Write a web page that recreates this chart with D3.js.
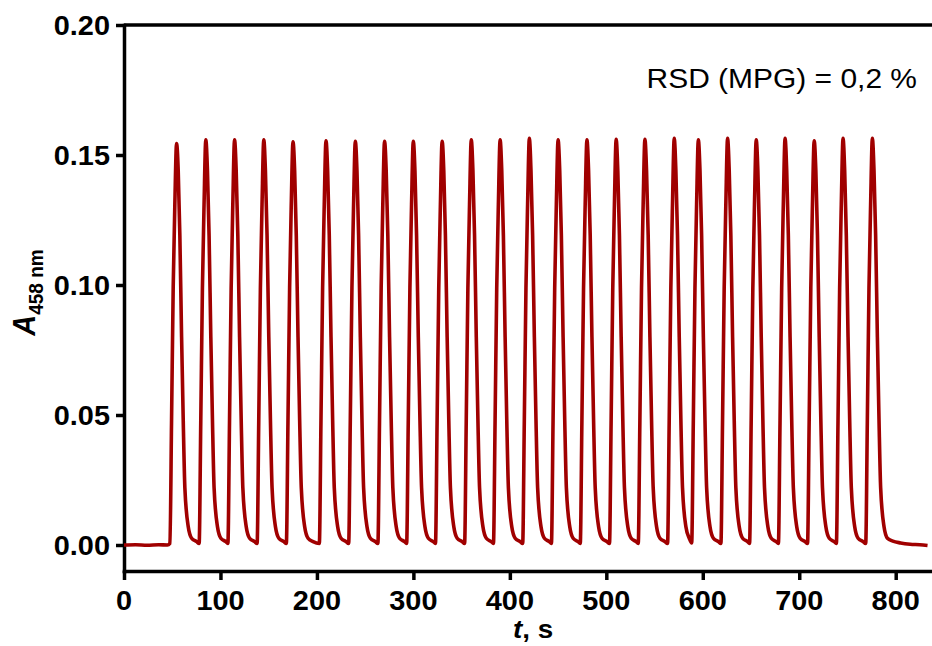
<!DOCTYPE html>
<html><head><meta charset="utf-8">
<script src="https://cdn.jsdelivr.net/npm/d3@7"></script>
<style>body{margin:0;background:#fff} svg{display:block}</style>
</head><body><svg id="chart" width="932" height="646"></svg>
<script>
// ---- data ----
const xTicks = [0,100,200,300,400,500,600,700,800];
const xTickLabels = ["0","100","200","300","400","500","600","700","800"];
const yTicks = [0,0.05,0.10,0.15,0.20];
const yTickLabels = ["0.00","0.05","0.10","0.15","0.20"];
const xTitle = ["t", ", s"];
const yTitle = ["A", "458 nm"];
const annotation = "RSD (MPG) = 0,2 %";

// time (s), absorbance
const baselineStart = [[0,0.0000],[12,0.0001],[24,-0.0001],[36,0.0001],[45,0.0000]];
const pulses = [
 [[47.6,0.0006],[49.3,0.048],[51.0,0.099],[52.7,0.131],[54.5,0.1544],[56.2,0.144],[57.9,0.119],[59.7,0.080],[61.4,0.048],[63.1,0.022],[66.6,0.007],[70.1,0.0026],[75.3,0.0013]],
 [[77.9,0.0006],[79.6,0.048],[81.3,0.099],[83.0,0.131],[84.8,0.1558],[86.5,0.144],[88.2,0.119],[90.0,0.080],[91.7,0.048],[93.4,0.022],[96.9,0.007],[100.4,0.0026],[105.6,0.0013]],
 [[107.7,0.0006],[109.4,0.048],[111.1,0.099],[112.8,0.131],[114.6,0.1558],[116.3,0.144],[118.0,0.119],[119.8,0.080],[121.5,0.048],[123.2,0.022],[126.7,0.007],[130.2,0.0026],[135.4,0.0013]],
 [[138.0,0.0006],[139.7,0.048],[141.4,0.099],[143.1,0.131],[144.9,0.1558],[146.6,0.144],[148.3,0.119],[150.1,0.080],[151.8,0.048],[153.5,0.022],[157.0,0.007],[160.5,0.0026],[165.7,0.0013]],
 [[168.3,0.0006],[170.0,0.048],[171.7,0.099],[173.4,0.131],[175.2,0.1551],[176.9,0.144],[178.6,0.119],[180.4,0.080],[182.1,0.048],[183.8,0.022],[187.3,0.007],[190.8,0.0026],[196.0,0.0013]],
 [[202.5,0.0006],[204.2,0.048],[205.9,0.099],[207.6,0.131],[209.4,0.1555],[211.1,0.144],[212.8,0.119],[214.6,0.080],[216.3,0.048],[218.0,0.022],[221.5,0.007],[225.0,0.0026],[230.2,0.0013]],
 [[232.9,0.0006],[234.6,0.048],[236.3,0.099],[238.0,0.131],[239.8,0.1553],[241.5,0.144],[243.2,0.119],[245.0,0.080],[246.7,0.048],[248.4,0.022],[251.9,0.007],[255.4,0.0026],[260.6,0.0013]],
 [[263.2,0.0006],[264.9,0.048],[266.6,0.099],[268.3,0.131],[270.1,0.1553],[271.8,0.144],[273.5,0.119],[275.3,0.080],[277.0,0.048],[278.7,0.022],[282.2,0.007],[285.7,0.0026],[290.9,0.0013]],
 [[293.0,0.0006],[294.7,0.048],[296.4,0.099],[298.1,0.131],[299.9,0.1553],[301.6,0.144],[303.3,0.119],[305.1,0.080],[306.8,0.048],[308.5,0.022],[312.0,0.007],[315.5,0.0026],[320.7,0.0013]],
 [[322.9,0.0006],[324.6,0.048],[326.3,0.099],[328.0,0.131],[329.8,0.1553],[331.5,0.144],[333.2,0.119],[335.0,0.080],[336.7,0.048],[338.4,0.022],[341.9,0.007],[345.4,0.0026],[350.6,0.0013]],
 [[353.1,0.0006],[354.8,0.048],[356.5,0.099],[358.2,0.131],[360.0,0.1558],[361.7,0.144],[363.4,0.119],[365.2,0.080],[366.9,0.048],[368.6,0.022],[372.1,0.007],[375.6,0.0026],[380.8,0.0013]],
 [[383.0,0.0006],[384.7,0.048],[386.4,0.099],[388.1,0.131],[389.9,0.1558],[391.6,0.144],[393.3,0.119],[395.1,0.080],[396.8,0.048],[398.5,0.022],[402.0,0.007],[405.5,0.0026],[410.7,0.0013]],
 [[413.3,0.0006],[415.0,0.048],[416.7,0.099],[418.4,0.131],[420.2,0.1564],[421.9,0.144],[423.6,0.119],[425.4,0.080],[427.1,0.048],[428.8,0.022],[432.3,0.007],[435.8,0.0026],[441.0,0.0013]],
 [[443.1,0.0006],[444.8,0.048],[446.5,0.099],[448.2,0.131],[450.0,0.1558],[451.7,0.144],[453.4,0.119],[455.2,0.080],[456.9,0.048],[458.6,0.022],[462.1,0.007],[465.6,0.0026],[470.8,0.0013]],
 [[473.0,0.0006],[474.7,0.048],[476.4,0.099],[478.1,0.131],[479.9,0.1558],[481.6,0.144],[483.3,0.119],[485.1,0.080],[486.8,0.048],[488.5,0.022],[492.0,0.007],[495.5,0.0026],[500.7,0.0013]],
 [[503.3,0.0006],[505.0,0.048],[506.7,0.099],[508.4,0.131],[510.2,0.1560],[511.9,0.144],[513.6,0.119],[515.4,0.080],[517.1,0.048],[518.8,0.022],[522.3,0.007],[525.8,0.0026],[531.0,0.0013]],
 [[533.1,0.0006],[534.8,0.048],[536.5,0.099],[538.2,0.131],[540.0,0.1560],[541.7,0.144],[543.4,0.119],[545.2,0.080],[546.9,0.048],[548.6,0.022],[552.1,0.007],[555.6,0.0026],[560.8,0.0013]],
 [[563.5,0.0006],[565.2,0.048],[566.9,0.099],[568.6,0.131],[570.4,0.1564],[572.1,0.144],[573.8,0.119],[575.6,0.080],[577.3,0.048],[579.0,0.022],[582.5,0.007],[586.0,0.0026]],
 [[588.5,0.0008],[590.2,0.048],[591.9,0.099],[593.6,0.131],[595.4,0.1558],[597.1,0.144],[598.8,0.119],[600.6,0.080],[602.3,0.048],[604.0,0.022],[607.5,0.007],[611.0,0.0026],[616.2,0.0013]],
 [[618.8,0.0006],[620.5,0.048],[622.2,0.099],[623.9,0.131],[625.7,0.1564],[627.4,0.144],[629.1,0.119],[630.9,0.080],[632.6,0.048],[634.3,0.022],[637.8,0.007],[641.3,0.0026],[646.5,0.0013]],
 [[648.5,0.0006],[650.2,0.048],[651.9,0.099],[653.6,0.131],[655.4,0.1558],[657.1,0.144],[658.8,0.119],[660.6,0.080],[662.3,0.048],[664.0,0.022],[667.5,0.007],[671.0,0.0026],[676.2,0.0013]],
 [[678.4,0.0006],[680.1,0.048],[681.8,0.099],[683.5,0.131],[685.3,0.1564],[687.0,0.144],[688.7,0.119],[690.5,0.080],[692.2,0.048],[693.9,0.022],[697.4,0.007],[700.9,0.0026],[706.1,0.0013]],
 [[708.6,0.0006],[710.3,0.048],[712.0,0.099],[713.7,0.131],[715.5,0.1555],[717.2,0.144],[718.9,0.119],[720.7,0.080],[722.4,0.048],[724.1,0.022],[727.6,0.007],[731.1,0.0026],[736.3,0.0013]],
 [[738.5,0.0006],[740.2,0.048],[741.9,0.099],[743.6,0.131],[745.4,0.1564],[747.1,0.144],[748.8,0.119],[750.6,0.080],[752.3,0.048],[754.0,0.022],[757.5,0.007],[761.0,0.0026],[766.2,0.0013]],
 [[768.9,0.0006],[770.6,0.048],[772.3,0.099],[774.0,0.131],[775.8,0.1564],[777.5,0.144],[779.2,0.119],[781.0,0.080],[782.7,0.048],[784.4,0.022],[787.9,0.007],[791.4,0.0026]]
];
const baselineEnd = [[797.0,0.0015],[805.0,0.0008],[815.0,0.0003],[825.0,0.0001],[833.0,-0.0002]];

// ---- drawing ----
const W = 932, H = 646;
const FONT = "'Liberation Sans', Arial, Helvetica, sans-serif";
const SX = 1.07;
const svg = d3.select("#chart");
svg.append("rect").attr("width", W).attr("height", H).attr("fill", "#fff");

const x = d3.scaleLinear().domain([0, 838]).range([124, 124 + 838 * 0.96463]);
const y = d3.scaleLinear().domain([-0.01, 0.20]).range([571, 25]);

// axes
const gy = svg.append("g").attr("transform", `translate(${x(0)},0)`)
  .call(d3.axisLeft(y).tickValues(yTicks).tickSize(8).tickSizeOuter(0).tickFormat(""));
const gx = svg.append("g").attr("transform", `translate(0,${y(-0.01)})`)
  .call(d3.axisBottom(x).tickValues(xTicks).tickSize(9).tickSizeOuter(0).tickFormat(""));
[gx, gy].forEach(g => {
  g.selectAll("path,line").attr("stroke", "#000").attr("stroke-width", 3.5);
  g.select(".domain").attr("stroke-linecap", "square");
});
svg.append("line").attr("x1", x(0)).attr("x2", W).attr("y1", y(0.20)).attr("y2", y(0.20))
  .attr("stroke", "#000").attr("stroke-width", 3.5);

// trace
const trace = baselineStart.concat(...pulses, baselineEnd);
const line = d3.line().x(d => x(d[0])).y(d => y(d[1])).curve(d3.curveMonotoneX);
svg.append("path").datum(trace).attr("d", line).attr("fill", "none")
  .attr("stroke", "#a00000").attr("stroke-width", 3.6).attr("stroke-linejoin", "round");

// tick labels
yTicks.forEach((v, i) => {
  svg.append("g").attr("transform", `translate(110,${y(v) + 9.6}) scale(${SX},1)`)
    .append("text").attr("text-anchor", "end").attr("font-family", FONT)
    .attr("font-weight", "bold").attr("font-size", 27).attr("fill", "#000").text(yTickLabels[i]);
});
xTicks.forEach((v, i) => {
  svg.append("g").attr("transform", `translate(${x(v)},610) scale(${SX},1)`)
    .append("text").attr("text-anchor", "middle").attr("font-family", FONT)
    .attr("font-weight", "bold").attr("font-size", 27).attr("fill", "#000").text(xTickLabels[i]);
});

// x title
const xt = svg.append("g").attr("transform", `translate(533,638) scale(${SX},1)`)
  .append("text").attr("text-anchor", "middle").attr("font-family", FONT)
  .attr("font-weight", "bold").attr("font-size", 26).attr("fill", "#000");
xt.append("tspan").attr("font-style", "italic").text(xTitle[0]);
xt.append("tspan").text(xTitle[1]);

// y title
const yt = svg.append("g").attr("transform", `translate(35,292.5) rotate(-90) scale(1,${SX})`)
  .append("text").attr("text-anchor", "middle").attr("font-family", FONT)
  .attr("font-weight", "bold").attr("fill", "#000");
yt.append("tspan").attr("font-style", "italic").attr("font-size", 29).text(yTitle[0]);
yt.append("tspan").attr("font-size", 19).attr("dy", 7.5).text(yTitle[1]);

// annotation
svg.append("g").attr("transform", `translate(917,88) scale(${SX},1)`)
  .append("text").attr("text-anchor", "end").attr("font-family", FONT)
  .attr("font-size", 28).attr("fill", "#000").text(annotation);
</script>
</body></html>
